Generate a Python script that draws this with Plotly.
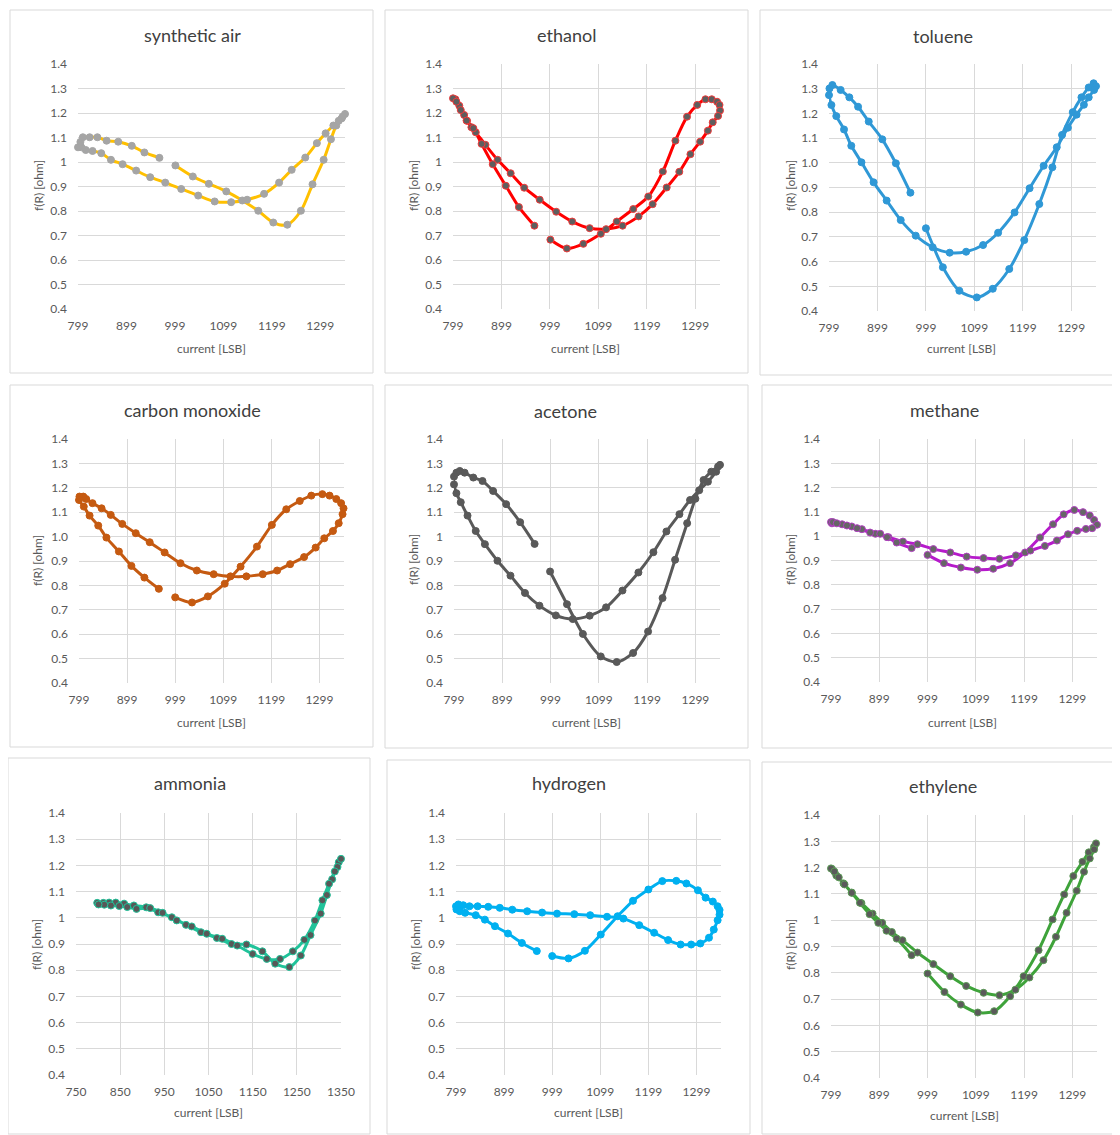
import plotly.graph_objects as go

# ---------------- data ----------------
air_x = [1000,1036,1069,1105,1138,1171,1202,1231,1259,1283,1306,1321,1332,1343,1350,
         1345,1337,1326,1310,1292,1268,1240,1214,1183,1148,1115,1081,1047,1012,979,948,919,891,867,847,829,815,806,799,
         804,809,823,839,858,882,910,936,967]
air_y = [0.986,0.941,0.911,0.880,0.843,0.801,0.753,0.744,0.801,0.909,1.009,1.093,1.149,1.178,1.196,
         1.185,1.168,1.149,1.117,1.077,1.018,0.968,0.916,0.870,0.846,0.836,0.839,0.863,0.890,0.916,0.938,0.965,0.991,1.009,1.036,1.045,1.049,1.060,1.060,
         1.082,1.101,1.101,1.101,1.087,1.083,1.066,1.039,1.017]

ethanol_x = [1000,1034,1068,1104,1137,1171,1202,1232,1258,1282,1303,1320,1333,1344,1349,1350,
             1346,1335,1325,1309,1289,1266,1240,1211,1182,1149,1115,1081,1045,1012,978,946,918,891,866,846,837,828,822,812,804,799,
             806,815,827,841,858,881,908,935,967]
ethanol_y = [0.683,0.647,0.666,0.707,0.757,0.808,0.859,0.961,1.087,1.185,1.233,1.256,1.256,1.246,1.233,1.210,
             1.188,1.162,1.128,1.083,1.032,0.960,0.896,0.828,0.778,0.740,0.726,0.730,0.757,0.797,0.846,0.895,0.954,1.009,1.070,1.121,1.142,1.168,1.192,1.230,1.256,1.260,
             1.246,1.212,1.169,1.138,1.074,0.991,0.903,0.816,0.740]

toluene_x = [999,1034,1068,1104,1137,1171,1202,1233,1260,1280,1302,1320,1335,1345,1350,
             1346,1335,1325,1310,1292,1269,1242,1213,1182,1148,1117,1082,1048,1013,978,947,918,891,866,845,830,814,804,799,800,806,
             823,841,859,881,909,937,967]
toluene_y = [0.735,0.577,0.482,0.455,0.490,0.570,0.687,0.833,0.982,1.113,1.205,1.265,1.305,1.322,1.310,
             1.295,1.265,1.235,1.195,1.142,1.063,0.988,0.897,0.799,0.717,0.667,0.640,0.636,0.658,0.705,0.768,0.847,0.921,1.002,1.069,1.135,1.189,1.234,1.274,1.301,1.315,
             1.295,1.265,1.227,1.167,1.095,0.998,0.879]

co_x = [999,1034,1067,1102,1135,1169,1200,1230,1258,1282,1305,1320,1334,1344,1349,1347,1339,
        1327,1309,1291,1267,1238,1211,1181,1147,1114,1079,1044,1010,977,946,917,889,865,846,827,814,808,800,799,
        809,821,839,856,882,908,935,965]
co_y = [0.751,0.730,0.755,0.807,0.877,0.959,1.048,1.112,1.146,1.168,1.174,1.168,1.154,1.137,1.116,1.092,1.055,
        1.023,0.993,0.955,0.916,0.887,0.861,0.846,0.837,0.837,0.846,0.861,0.891,0.935,0.977,1.014,1.052,1.089,1.116,1.137,1.154,1.164,1.164,1.150,
        1.123,1.086,1.045,0.996,0.939,0.880,0.832,0.786]

acetone_x = [998,1033,1066,1103,1136,1170,1201,1231,1257,1282,1299,1316,1332,1346,1350,
             1342,1325,1307,1288,1266,1239,1212,1181,1148,1114,1080,1045,1010,976,946,916,889,863,844,827,813,804,799,
             799,804,811,821,839,858,880,907,936,966]
acetone_y = [0.857,0.723,0.601,0.509,0.486,0.523,0.611,0.748,0.905,1.055,1.155,1.232,1.266,1.287,1.294,
             1.266,1.225,1.190,1.150,1.092,1.021,0.936,0.853,0.779,0.710,0.676,0.662,0.677,0.717,0.769,0.840,0.901,0.969,1.023,1.086,1.141,1.178,1.214,
             1.246,1.262,1.269,1.262,1.242,1.228,1.187,1.133,1.059,0.970]

methane_x = [999,1033,1068,1102,1135,1170,1201,1232,1259,1281,1303,1321,1335,1344,1350,
             1340,1327,1309,1290,1267,1242,1212,1182,1148,1115,1080,1046,1011,978,948,918,891,863,842,822,801,799,
             803,811,832,853,880,901,915,935,966]
methane_y = [0.923,0.889,0.871,0.862,0.866,0.889,0.933,0.995,1.049,1.090,1.108,1.099,1.085,1.067,1.047,
             1.033,1.030,1.022,1.008,0.982,0.960,0.941,0.921,0.907,0.910,0.916,0.933,0.947,0.967,0.978,0.996,1.010,1.029,1.040,1.049,1.053,1.058,
             1.058,1.053,1.044,1.033,1.015,1.010,0.996,0.974,0.951]

ammonia_x = [798,812,825,840,859,881,909,936,967,999,1033,1069,1102,1136,1172,1201,1233,1259,1281,1304,1318,1330,1345,1350,
             1342,1336,1323,1308,1291,1267,1241,1212,1182,1150,1115,1081,1046,1012,978,946,918,887,866,848,829,814,801]
ammonia_y = [1.057,1.057,1.058,1.058,1.054,1.047,1.040,1.021,1.002,0.973,0.945,0.923,0.900,0.898,0.872,0.825,0.812,0.856,0.934,1.016,1.087,1.147,1.212,1.225,
             1.194,1.177,1.130,1.067,0.990,0.916,0.872,0.843,0.843,0.862,0.894,0.920,0.939,0.967,0.990,1.019,1.037,1.034,1.041,1.045,1.047,1.050,1.051]

hydrogen_x = [999,1033,1067,1100,1135,1167,1199,1228,1257,1278,1302,1318,1333,1343,1347,1347,1343,1335,1325,1307,1288,1266,
              1240,1211,1180,1147,1113,1078,1045,1009,978,947,916,890,866,844,827,814,804,799,
              800,807,818,840,859,880,907,936,967]
hydrogen_y = [0.854,0.845,0.874,0.936,1.006,1.065,1.108,1.140,1.141,1.131,1.105,1.077,1.062,1.044,1.030,1.012,0.991,0.955,0.924,0.902,0.898,0.898,
              0.915,0.943,0.972,0.997,1.004,1.010,1.014,1.016,1.020,1.025,1.031,1.038,1.042,1.044,1.044,1.048,1.051,1.044,
              1.032,1.025,1.019,1.010,0.993,0.968,0.940,0.904,0.873]

ethylene_x = [999,1034,1068,1103,1137,1170,1198,1229,1258,1282,1301,1320,1333,1344,1348,
              1344,1335,1323,1308,1287,1265,1239,1210,1181,1148,1115,1079,1046,1011,978,947,925,905,885,862,842,825,810,801,799,
              806,815,827,842,859,879,897,914,935,966]
ethylene_y = [0.797,0.727,0.679,0.649,0.654,0.711,0.787,0.886,1.003,1.098,1.168,1.222,1.258,1.279,1.292,
              1.269,1.235,1.184,1.112,1.028,0.937,0.848,0.782,0.736,0.715,0.724,0.750,0.787,0.833,0.877,0.924,0.955,0.990,1.025,1.065,1.105,1.140,1.170,1.195,1.197,
              1.185,1.163,1.136,1.104,1.066,1.023,0.990,0.960,0.930,0.867]

titles = ["synthetic air", "ethanol", "toluene", "carbon monoxide", "acetone",
          "methane", "ammonia", "hydrogen", "ethylene"]
xs = [air_x, ethanol_x, toluene_x, co_x, acetone_x, methane_x, ammonia_x, hydrogen_x, ethylene_x]
ys = [air_y, ethanol_y, toluene_y, co_y, acetone_y, methane_y, ammonia_y, hydrogen_y, ethylene_y]

x_ticks_std = [799, 899, 999, 1099, 1199, 1299]
x_ticks_nh3 = [750, 850, 950, 1050, 1150, 1250, 1350]
y_ticks = [0.4, 0.5, 0.6, 0.7, 0.8, 0.9, 1.0, 1.1, 1.2, 1.3, 1.4]
y_text_a = ["0.4", "0.5", "0.6", "0.7", "0.8", "0.9", "1", "1.1", "1.2", "1.3", "1.4"]
y_text_b = ["0.4", "0.5", "0.6", "0.7", "0.8", "0.9", "1.0", "1.1", "1.2", "1.3", "1.4"]

# ---------------- styling / layout ----------------
# the page body adds an 8px margin, so the figure is placed 8px in and sized to the remaining window
OFF = 8
W, H = 1120 - OFF, 1135 - OFF

def fx(px):
    return min(max(px - OFF, 0), W - 1) / W

def fy(py):
    return 1 - min(max(py - OFF, 0), H - 1) / H

styles = [
    dict(line="#FFC000", mfill="#A5A5A5", mline="#A5A5A5"),
    dict(line="#FF0000", mfill="#5E5E5E", mline="#F03A3A"),
    dict(line="#2F98D6", mfill="#2F98D6", mline="#2F98D6"),
    dict(line="#C55A11", mfill="#C55A11", mline="#C55A11"),
    dict(line="#595959", mfill="#595959", mline="#595959"),
    dict(line="#B61ACB", mfill="#666666", mline="#B040C0"),
    dict(line="#20C39A", mfill="#585858", mline="#20C39A"),
    dict(line="#00B0F0", mfill="#00B0F0", mline="#00B0F0"),
    dict(line="#3EA33A", mfill="#5A5A5A", mline="#5A9A55"),
]
panels = [
    dict(box=(10,10,373,373),   plot=(78,345,64,309),    t=(192,35),  yt=(38,186),  xt=(211,348)),
    dict(box=(385,10,748,373),  plot=(453,720,64,309),   t=(566,35),  yt=(413,186), xt=(585,348)),
    dict(box=(760,10,1120,375), plot=(829,1096,64,311),  t=(943,36),  yt=(790,186), xt=(961,349)),
    dict(box=(10,385,373,747),  plot=(79,344,439,683),   t=(192,410), yt=(38,561),  xt=(211,722)),
    dict(box=(385,385,748,748), plot=(454,720,439,683),  t=(565,411), yt=(413,560), xt=(586,722)),
    dict(box=(762,385,1120,748),plot=(831,1097,439,682), t=(944,410), yt=(790,560), xt=(962,722)),
    dict(box=(7,758,370,1135),  plot=(76,341,813,1075),  t=(190,783), yt=(36,945),  xt=(208,1112)),
    dict(box=(387,760,750,1135),plot=(456,721,813,1075), t=(569,783), yt=(415,945), xt=(588,1112)),
    dict(box=(762,762,1120,1135),plot=(831,1097,815,1078),t=(943,786), yt=(790,945), xt=(964,1115)),
]

FONT = "Lato"
GRID = "#D9D9D9"
TXT = "#595959"

fig = go.Figure()
shapes, annotations = [], []
layout_axes = {}
for i in range(9):
    n = i + 1
    st = styles[i]
    p = panels[i]
    xa = "x" if n == 1 else f"x{n}"
    ya = "y" if n == 1 else f"y{n}"
    fig.add_trace(go.Scatter(
        x=xs[i], y=ys[i], xaxis=xa, yaxis=ya, mode="lines+markers",
        line=dict(color=st["line"], width=3, shape="spline", smoothing=0.8),
        marker=dict(size=7, color=st["mfill"], line=dict(color=st["mline"], width=1)),
        cliponaxis=False, showlegend=False, hoverinfo="x+y"))
    px0, px1, py0, py1 = p["plot"]
    is_nh3 = (i == 6)
    layout_axes["xaxis" if n == 1 else f"xaxis{n}"] = dict(
        domain=[fx(px0), fx(px1)], anchor=ya, automargin=False,
        range=[750, 1350] if is_nh3 else [799, 1350],
        tickmode="array", tickvals=x_ticks_nh3 if is_nh3 else x_ticks_std,
        showgrid=(i != 0), gridcolor=GRID, gridwidth=1, zeroline=False, showline=False,
        ticks="", ticklabelstandoff=8,
        tickfont=dict(family=FONT, size=12, color=TXT), fixedrange=True)
    layout_axes["yaxis" if n == 1 else f"yaxis{n}"] = dict(
        domain=[fy(py1), fy(py0)], anchor=xa, automargin=False,
        range=[0.4, 1.4], tickmode="array", tickvals=y_ticks,
        ticktext=y_text_b if i in (2, 3) else y_text_a,
        showgrid=True, gridcolor=GRID, gridwidth=1, zeroline=False, showline=False,
        ticks="", ticklabelstandoff=10,
        tickfont=dict(family=FONT, size=12, color=TXT), fixedrange=True)
    bx0, by0, bx1, by1 = p["box"]
    shapes.append(dict(type="rect", xref="paper", yref="paper",
                       x0=fx(bx0), x1=fx(bx1), y0=fy(by1), y1=fy(by0),
                       line=dict(color="#D9D9D9", width=1), fillcolor="rgba(0,0,0,0)", layer="below"))
    annotations.append(dict(text=titles[i], xref="paper", yref="paper",
                            x=fx(p["t"][0]), y=fy(p["t"][1]), showarrow=False,
                            xanchor="center", yanchor="middle",
                            font=dict(family=FONT, size=18, color="#404040")))
    annotations.append(dict(text="f(R) [ohm]", xref="paper", yref="paper", textangle=-90,
                            x=fx(p["yt"][0]), y=fy(p["yt"][1]), showarrow=False,
                            xanchor="center", yanchor="middle",
                            font=dict(family=FONT, size=12, color=TXT)))
    annotations.append(dict(text="current [LSB]", xref="paper", yref="paper",
                            x=fx(p["xt"][0]), y=fy(p["xt"][1]), showarrow=False,
                            xanchor="center", yanchor="middle",
                            font=dict(family=FONT, size=12, color=TXT)))

fig.update_layout(width=W, height=H, margin=dict(l=0, r=0, t=0, b=0, pad=0),
                  autosize=False,
                  paper_bgcolor="white", plot_bgcolor="white",
                  shapes=shapes, annotations=annotations, **layout_axes)

fig.write_html("out.html", config=dict(responsive=False, displayModeBar=False))
